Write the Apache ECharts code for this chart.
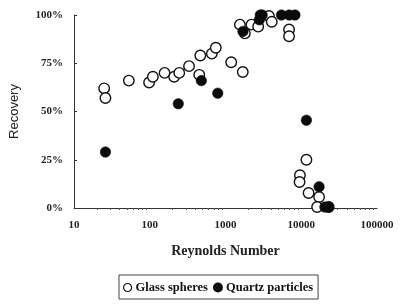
<!DOCTYPE html>
<html>
<head>
<meta charset="utf-8">
<script src="https://cdn.jsdelivr.net/npm/echarts@6/dist/echarts.min.js"></script>
<style>
  html, body { margin: 0; padding: 0; background: #fff; }
  #chart { width: 400px; height: 304px; }
</style>
</head>
<body>
<div id="chart"></div>
<script>
// Reynolds number / recovery %
const glassRe = [25, 26, 53, 98, 110, 157, 210, 245, 330, 465, 450, 660, 745, 1190, 1690,
  1550, 1800, 2200, 2700, 3740, 4080, 6900, 6900, 11700, 9600, 9500, 12500, 17200, 16200, 23000];
const glassRec = [62, 57, 66, 65, 68, 70, 68, 70, 73.5, 79, 69, 80, 83, 75.5, 70.5,
  95, 90.5, 95, 94, 99.5, 96.5, 92.5, 89, 25, 17, 13.5, 7.8, 5.7, 0.5, 0.5];

const quartzRe = [26, 238, 480, 790, 1700, 2800, 2880, 3050, 5480, 6930, 8260, 11700, 17200, 20500, 23000];
const quartzRec = [29, 54, 66, 59.5, 91.5, 97.5, 100, 100, 100, 100, 100, 45.5, 11, 0.5, 0.5];

const yTicks = [0, 25, 50, 75, 100];

const pairs = (xs, ys) => xs.map((x, i) => [x, ys[i]]);

const serif = 'Liberation Serif';
const chart = echarts.init(document.getElementById('chart'));

chart.setOption({
  animation: false,
  backgroundColor: '#fff',
  grid: { left: 64, right: 23, top: 15, bottom: 96 },
  legend: {
    left: 119, top: 275,
    padding: [6, 5, 5, 4],
    borderColor: '#444', borderWidth: 1,
    itemWidth: 8, itemHeight: 8, itemGap: 5,
    textStyle: { fontFamily: serif, fontSize: 12.5, fontWeight: 'bold', color: '#111', padding: [0, 0, 0, -1] },
    data: [
      { name: 'Glass spheres', icon: 'circle', itemStyle: { color: '#fff', borderColor: '#111', borderWidth: 1.2 } },
      { name: 'Quartz particles', icon: 'circle', itemStyle: { color: '#111' } }
    ]
  },
  xAxis: {
    type: 'log', logBase: 10, min: 10, max: 100000,
    name: 'Reynolds Number', nameLocation: 'middle', nameGap: 36,
    nameTextStyle: { fontFamily: serif, fontSize: 14, fontWeight: 'bold', color: '#222' },
    axisLine: { lineStyle: { color: '#333', width: 1 } },
    axisTick: { show: false },
    minorTick: { show: true, splitNumber: 9, length: 2, lineStyle: { color: '#555' } },
    axisLabel: {
      fontFamily: serif, fontSize: 11, fontWeight: 'bold', color: '#222', margin: 12,
      formatter: v => String(Math.round(v))
    },
    splitLine: { show: false }
  },
  yAxis: {
    type: 'value', min: yTicks[0], max: yTicks[yTicks.length - 1], interval: 25,
    name: 'Recovery', nameLocation: 'middle', nameGap: 53, nameRotate: 90,
    nameTextStyle: { fontFamily: 'Liberation Sans', fontSize: 13, color: '#222' },
    axisLine: { show: true, lineStyle: { color: '#333', width: 1 } },
    axisTick: { show: true, inside: true, length: 3, lineStyle: { color: '#333' } },
    axisLabel: {
      fontFamily: serif, fontSize: 11, fontWeight: 'bold', color: '#222', margin: 11,
      formatter: '{value}%'
    },
    splitLine: { show: false }
  },
  series: [
    {
      name: 'Glass spheres', type: 'scatter', clip: false,
      symbol: 'circle', symbolSize: 10.5,
      itemStyle: { color: '#fff', borderColor: '#111', borderWidth: 1.4, opacity: 1 },
      data: pairs(glassRe, glassRec)
    },
    {
      name: 'Quartz particles', type: 'scatter', clip: false,
      symbol: 'circle', symbolSize: 10.5,
      itemStyle: { color: '#0a0a0a', borderColor: '#0a0a0a', borderWidth: 0.5, opacity: 1 },
      data: pairs(quartzRe, quartzRec)
    }
  ]
});
</script>
</body>
</html>
